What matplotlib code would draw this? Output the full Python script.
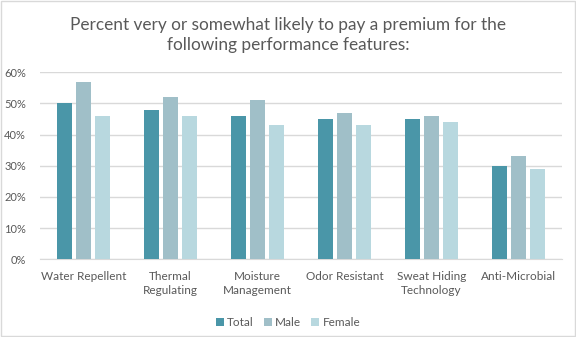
import matplotlib.pyplot as plt
import numpy as np
from matplotlib.patches import Rectangle

plt.rcParams['font.family'] = ['Lato', 'DejaVu Sans']

categories = ['Water Repellent', 'Thermal\nRegulating', 'Moisture\nManagement',
              'Odor Resistant', 'Sweat Hiding\nTechnology', 'Anti-Microbial']
total = [0.50, 0.48, 0.46, 0.45, 0.45, 0.30]
male = [0.57, 0.52, 0.51, 0.47, 0.46, 0.33]
female = [0.46, 0.46, 0.43, 0.43, 0.44, 0.29]
series = [('Total', total, '#4a96a8'), ('Male', male, '#a0bfc8'), ('Female', female, '#b8d8df')]

fig = plt.figure(figsize=(5.76, 3.37), dpi=100)
fig.patch.set_facecolor('white')
fig.add_artist(Rectangle((0.002, 0.003), 0.996, 0.994, transform=fig.transFigure,
                         fill=False, edgecolor='#d9d9d9', lw=1))

ax = fig.add_axes([0.0694, 0.2306, 0.9063, 0.5549])
x = np.arange(len(categories))
w = 0.175
step = 0.222
for i, (name, vals, col) in enumerate(series):
    ax.bar(x + (i - 1) * step, vals, w, color=col, label=name, zorder=3)

ax.set_xlim(-0.5, len(categories) - 0.5)
ax.set_ylim(0, 0.6)
ax.set_yticks(np.arange(0, 0.61, 0.1))
ax.set_yticklabels([f'{int(round(v * 100))}%' for v in np.arange(0, 0.61, 0.1)], fontsize=8)
ax.yaxis.grid(True, color='#d9d9d9', lw=1, zorder=0)
ax.set_xticks(x)
ax.set_xticklabels(categories, linespacing=1.3, fontsize=8.5)
ax.tick_params(axis='both', length=0, colors='#595959')
ax.tick_params(axis='x', pad=8.5)
ax.tick_params(axis='y', pad=10)
for s in ['top', 'right', 'left']:
    ax.spines[s].set_visible(False)
ax.spines['bottom'].set_color('#d9d9d9')

fig.text(0.5, 0.896, 'Percent very or somewhat likely to pay a premium for the\nfollowing performance features:',
         ha='center', va='center', fontsize=12.4, color='#595959', linespacing=1.3)

fig.legend(loc='center', bbox_to_anchor=(0.5, 0.042), ncol=3, frameon=False, fontsize=8.5,
           labelcolor='#595959', handlelength=0.7, handleheight=0.7, handletextpad=0.3,
           columnspacing=0.8)

plt.savefig('out.png', dpi=100, facecolor='white')
